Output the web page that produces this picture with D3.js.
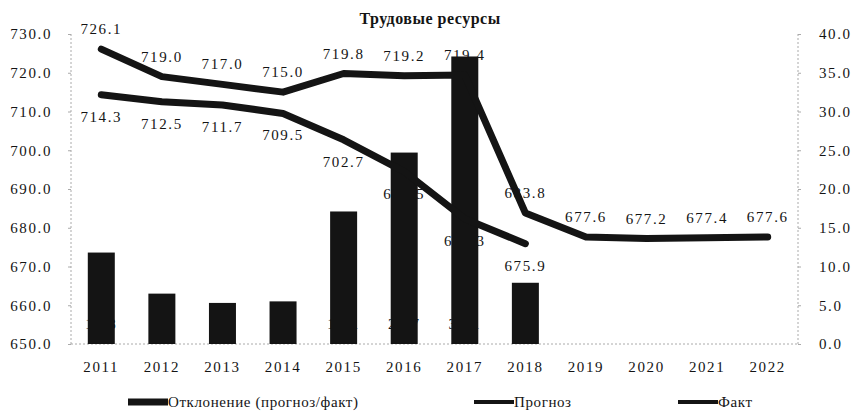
<!DOCTYPE html>
<html>
<head>
<meta charset="utf-8">
<script src="https://cdn.jsdelivr.net/npm/d3@7"></script>
<style>
  body { margin: 0; background: #fff; }
  svg text { font-family: "Liberation Serif", "Times New Roman", serif !important; }
</style>
</head>
<body>
<svg width="856" height="414"></svg>
<script>
const years = ["2011", "2012", "2013", "2014", "2015", "2016", "2017", "2018", "2019", "2020", "2021", "2022"];
const forecast = [726.1, 719.0, 717.0, 715.0, 719.8, 719.2, 719.4, 683.8, 677.6, 677.2, 677.4, 677.6];
const fact = [714.3, 712.5, 711.7, 709.5, 702.7, 694.5, 682.3, 675.9];
const deviation = [11.8, 6.5, 5.3, 5.5, 17.1, 24.7, 37.1, 7.9];
const leftTicks = [650, 660, 670, 680, 690, 700, 710, 720, 730];
const rightTicks = [0, 5, 10, 15, 20, 25, 30, 35, 40];

const svg = d3.select("svg");
const margin = { left: 71, right: 798, top: 34, bottom: 344 };
const ink = "#141414";
const fs = 15;
const ls = "1.6px";

const x = d3.scaleBand().domain(years).range([margin.left, margin.right]);
const yL = d3.scaleLinear().domain([650, 730]).range([margin.bottom, margin.top]);
const yR = d3.scaleLinear().domain([0, 40]).range([margin.bottom, margin.top]);
const cx = d => x(d) + x.bandwidth() / 2;

// title
svg.append("text")
  .attr("x", 430).attr("y", 24)
  .attr("text-anchor", "middle")
  .attr("font-weight", "bold").attr("font-size", 16)
  .attr("letter-spacing", "0.5px")
  .attr("fill", ink)
  .text("Трудовые ресурсы");

// axes frame lines (dotted)
const frame = svg.append("g").attr("stroke", "#aaa").attr("stroke-dasharray", "2,2").attr("stroke-width", 1);
frame.append("line").attr("x1", margin.left).attr("x2", margin.left).attr("y1", margin.top).attr("y2", margin.bottom);
frame.append("line").attr("x1", margin.right).attr("x2", margin.right).attr("y1", margin.top).attr("y2", margin.bottom);
frame.append("line").attr("x1", margin.left).attr("x2", margin.right).attr("y1", margin.bottom).attr("y2", margin.bottom);

// left axis
const axL = svg.append("g")
  .attr("transform", `translate(${margin.left},0)`)
  .call(d3.axisLeft(yL).tickValues(leftTicks).tickFormat(d3.format(".1f")).tickSize(3).tickPadding(16));
axL.select(".domain").remove();
axL.selectAll("line").attr("stroke", "#aaa");
axL.selectAll("text").attr("font-size", fs).attr("letter-spacing", ls).attr("fill", ink);

// right axis
const axR = svg.append("g")
  .attr("transform", `translate(${margin.right},0)`)
  .call(d3.axisRight(yR).tickValues(rightTicks).tickFormat(d3.format(".1f")).tickSize(3).tickPadding(18));
axR.select(".domain").remove();
axR.selectAll("line").attr("stroke", "#aaa");
axR.selectAll("text").attr("font-size", fs).attr("letter-spacing", ls).attr("fill", ink);

// x axis
const axX = svg.append("g")
  .attr("transform", `translate(0,${margin.bottom})`)
  .call(d3.axisBottom(x).tickSize(0).tickPadding(17));
axX.select(".domain").remove();
axX.selectAll("text").attr("font-size", fs).attr("letter-spacing", ls).attr("fill", ink);

// bars
const barW = 27;
svg.append("g").selectAll("rect")
  .data(deviation)
  .join("rect")
  .attr("x", (d, i) => cx(years[i]) - barW / 2)
  .attr("y", d => yR(d))
  .attr("width", barW)
  .attr("height", d => yR(0) - yR(d))
  .attr("fill", ink);

svg.append("g").selectAll("text")
  .data(deviation)
  .join("text")
  .attr("x", (d, i) => cx(years[i]))
  .attr("y", yR(0) - 15)
  .attr("text-anchor", "middle")
  .attr("font-size", fs)
  .attr("letter-spacing", ls)
  .attr("fill", ink)
  .text(d => d.toFixed(1));

// lines
const line = d3.line().x((d, i) => cx(years[i])).y(d => yL(d));

svg.append("path")
  .datum(forecast)
  .attr("d", line)
  .attr("fill", "none")
  .attr("stroke", ink)
  .attr("stroke-width", 7)
  .attr("stroke-linejoin", "round")
  .attr("stroke-linecap", "round");

svg.append("path")
  .datum(fact)
  .attr("d", line)
  .attr("fill", "none")
  .attr("stroke", ink)
  .attr("stroke-width", 7)
  .attr("stroke-linejoin", "round")
  .attr("stroke-linecap", "round");

// labels
svg.append("g").selectAll("text")
  .data(forecast)
  .join("text")
  .attr("x", (d, i) => cx(years[i]))
  .attr("y", d => yL(d) - 15)
  .attr("text-anchor", "middle")
  .attr("font-size", fs)
  .attr("letter-spacing", ls)
  .attr("fill", ink)
  .text(d => d.toFixed(1));

svg.append("g").selectAll("text")
  .data(fact)
  .join("text")
  .attr("x", (d, i) => cx(years[i]))
  .attr("y", d => yL(d) + 27)
  .attr("text-anchor", "middle")
  .attr("font-size", fs)
  .attr("letter-spacing", ls)
  .attr("fill", ink)
  .text(d => d.toFixed(1));

// legend
const legend = [
  { label: "Отклонение (прогноз/факт)", x: 128, h: 7 },
  { label: "Прогноз", x: 474, h: 4 },
  { label: "Факт", x: 678, h: 4 }
];
const lg = svg.append("g").selectAll("g").data(legend).join("g")
  .attr("transform", d => `translate(${d.x},407)`);
lg.append("rect")
  .attr("x", 0).attr("y", d => -5 - d.h / 2)
  .attr("width", 40).attr("height", d => d.h)
  .attr("fill", ink);
lg.append("text")
  .attr("x", 40).attr("y", 0)
  .attr("font-size", fs)
  .attr("letter-spacing", "0.6px")
  .attr("fill", ink)
  .text(d => d.label);
</script>
</body>
</html>
